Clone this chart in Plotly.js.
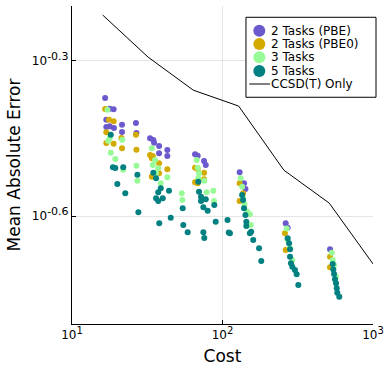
<!DOCTYPE html>
<html>
<head>
<meta charset="utf-8">
<script src="https://cdn.plot.ly/plotly-3.0.1.min.js"></script>
<style>html,body{margin:0;padding:0;background:#fff;}#chart{width:384px;height:366px;}</style>
</head>
<body>
<div id="chart"></div>
<script>
// ---- data ----
const pbeCost = [16.6,17.8,18.9,16.9,16.9,17.8,19.0,21.5,21.5,26.6,26.8,
  33.0,34.7,35.1,37.9,43.0,37.9,43.0,
  65.7,68.4,75.4,77.4,
  130,139,142,
  263,271,
  518];
const pbeMAE = [0.4250,0.4051,0.4040,0.3858,0.3735,0.3746,0.3718,0.3773,0.3653,0.3802,0.3637,
  0.3553,0.3524,0.3482,0.3431,0.3371,0.3322,0.3281,
  0.3307,0.3286,0.3209,0.3153,
  0.3052,0.2905,0.2833,
  0.2432,0.2384,
  0.2165];

const pbe0Cost = [16.6,17.6,18.9,16.9,16.9,18.9,21.3,21.5,26.6,26.8,
  33.0,34.4,33.9,37.9,43.0,33.9,35.6,37.9,
  65.7,68.4,75.4,65.7,68.4,75.4,
  130,137,130,
  260,263,
  518,518];
const pbe0MAE = [0.4047,0.3858,0.3831,0.3648,0.3478,0.3467,0.3556,0.3396,0.3607,0.3375,
  0.3297,0.3281,0.3249,0.3177,0.3094,0.2992,0.3006,0.3039,
  0.3115,0.3097,0.3046,0.2918,0.2905,0.2958,
  0.2905,0.2780,0.2685,
  0.2325,0.2158,
  0.2095,0.1998];

const t3Cost = [17.2,17.8,17.4,21.6,18.1,19.4,21.9,26.8,27.2,
  33.9,35.6,34.4,37.4,36.2,43.0,38.9,53.6,54.1,
  67.4,68.4,69.8,69.1,75.7,78.5,86.9,87.8,
  132,135,137,140,146,152,154,
  267,271,281,291,
  532,540,551,568];
const t3MAE = [0.4033,0.3556,0.3514,0.3529,0.3330,0.3238,0.3088,0.3143,0.2939,
  0.3396,0.3225,0.3153,0.3107,0.3039,0.2985,0.2905,0.2780,0.2698,
  0.3225,0.3115,0.3039,0.2972,0.2939,0.2792,0.2812,0.2685,
  0.2972,0.2862,0.2719,0.2647,0.2561,0.2532,0.2413,
  0.2377,0.2257,0.2175,0.2065,
  0.2133,0.2065,0.2019,0.1916];

const t5Cost = [18.1,18.7,19.4,21.9,20.0,22.6,27.2,27.6,
  34.7,36.2,38.9,37.4,44.1,36.2,37.4,40.1,54.4,45.3,38.0,54.9,
  69.1,69.8,72.0,72.0,77.4,88.2,74.6,79.7,90.1,108,58.7,74.6,75.7,110,
  135,137,139,142,144,144,112,152,155,160,175,181,
  271,277,281,281,285,291,303,311,319,
  540,545,551,559,568,574,579,597];
const t5MAE = [0.3607,0.3121,0.3111,0.3121,0.2897,0.2780,0.3020,0.2554,
  0.3046,0.2972,0.2841,0.2792,0.2812,0.2719,0.2685,0.2719,0.2600,0.2493,0.2432,0.2413,
  0.2926,0.2799,0.2738,0.2685,0.2706,0.2638,0.2611,0.2572,0.2449,0.2468,0.2336,0.2336,0.2277,0.2334,
  0.2759,0.2698,0.2600,0.2523,0.2449,0.2402,0.2325,0.2325,0.2342,0.2257,0.2175,0.2055,
  0.2275,0.2225,0.2165,0.2095,0.2034,0.2003,0.1974,0.1937,0.1847,
  0.2028,0.1980,0.1940,0.1895,0.1861,0.1820,0.1785,0.1753];

const ccsdCost = [16,32,64,128,256,512,1024];
const ccsdMAE = [0.615,0.510,0.440,0.410,0.308,0.266,0.201];

const seriesNames = ['2 Tasks (PBE)','2 Tasks (PBE0)','3 Tasks','5 Tasks','CCSD(T) Only'];
const seriesColors = ['#6a5acd','#d4aa00','#98fb98','#008080','#000000'];
const xTickVals = [10,100,1000];
const xTickText = ['10<sup><span style="font-size:10px">1</span></sup>',
                   '10<sup><span style="font-size:10px">2</span></sup>',
                   '10<sup><span style="font-size:10px">3</span></sup>'];
const yTickVals = [Math.pow(10,-0.3), Math.pow(10,-0.6)];
const yTickText = ['10<sup><span style="font-size:11px">-0.3</span></sup>',
                   '10<sup><span style="font-size:11px">-0.6</span></sup>'];

const FONT = 'DejaVu Sans, sans-serif';
function pts(x,y,i){
  return {x:x,y:y,name:seriesNames[i],type:'scatter',mode:'markers',showlegend:false,
    marker:{color:seriesColors[i],size:6,line:{width:0}},cliponaxis:true};
}
const traces = [
  pts(pbeCost,pbeMAE,0),
  pts(pbe0Cost,pbe0MAE,1),
  pts(t3Cost,t3MAE,2),
  pts(t5Cost,t5MAE,3),
  {x:ccsdCost,y:ccsdMAE,name:seriesNames[4],type:'scatter',mode:'lines',showlegend:false,
   line:{color:'#000',width:1}}
];

// ---- legend box (drawn in paper space) ----
const L = {left:0.578, right:1.01, top:0.9645, bottom:0.713,
  symX:0.6223, lineX0:0.589, lineX1:0.6578, textX:0.658,
  rows:[0.9223,0.8805,0.8387,0.7956,0.7547]};
const shapes = [{type:'rect',xref:'paper',yref:'paper',x0:L.left,x1:L.right,y0:L.bottom,y1:L.top,
  line:{color:'#000',width:1},fillcolor:'#fff',layer:'above'}];
const annotations = [];
seriesNames.forEach((nm,i)=>{
  const yy = L.rows[i];
  if(i<4){
    shapes.push({type:'circle',xref:'paper',yref:'paper',xsizemode:'pixel',ysizemode:'pixel',
      xanchor:L.symX,yanchor:yy,x0:-6,x1:6,y0:-6,y1:6,
      fillcolor:seriesColors[i],line:{width:0},layer:'above'});
  } else {
    shapes.push({type:'line',xref:'paper',yref:'paper',x0:L.lineX0,x1:L.lineX1,y0:yy,y1:yy,
      line:{color:'#000',width:1},layer:'above'});
  }
  annotations.push({xref:'paper',yref:'paper',x:L.textX,y:yy,xanchor:'left',yanchor:'middle',
    text:nm,showarrow:false,font:{family:FONT,size:12,color:'#000'},borderpad:0});
});

const axisCommon = {
  type:'log', showline:true, linecolor:'#000', linewidth:1, mirror:false,
  ticks:'inside', ticklen:4, tickcolor:'#000', tickwidth:1,
  showgrid:true, gridcolor:'rgba(0,0,0,0.1)', gridwidth:1, zeroline:false,
  tickfont:{family:FONT,size:12,color:'#000'}, fixedrange:true
};
const layout = {
  width:384, height:366,
  margin:{l:72,r:11,t:6,b:42},
  paper_bgcolor:'#fff', plot_bgcolor:'#fff',
  font:{family:FONT,color:'#000'},
  showlegend:false,
  shapes:shapes, annotations:annotations,
  xaxis:Object.assign({},axisCommon,{range:[1,3],tickvals:xTickVals,ticktext:xTickText,
    title:{text:'Cost',font:{family:FONT,size:17,color:'#000'},standoff:11}}),
  yaxis:Object.assign({},axisCommon,{range:[-0.809,-0.1936],tickvals:yTickVals,ticktext:yTickText,
    title:{text:'Mean Absolute Error',font:{family:FONT,size:17,color:'#000'},standoff:6}})
};
Plotly.newPlot('chart',traces,layout,{displayModeBar:false,staticPlot:true});
</script>
</body>
</html>
